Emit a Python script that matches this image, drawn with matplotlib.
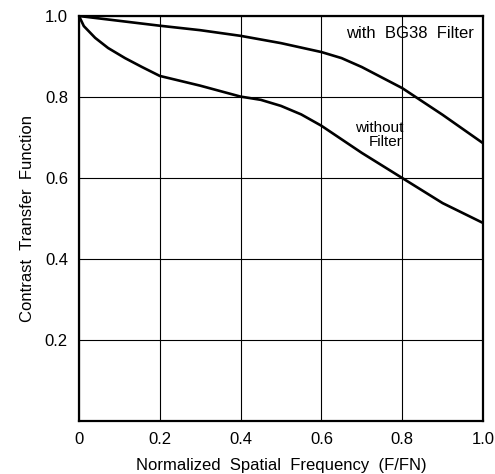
import matplotlib
matplotlib.use("Agg")
import matplotlib.pyplot as plt

# values
freq_bg38 = [0.0, 0.1, 0.2, 0.3, 0.4, 0.5, 0.6, 0.65, 0.7, 0.8, 0.9, 1.0]
ctf_bg38 = [1.0, 0.988, 0.976, 0.965, 0.951, 0.933, 0.911, 0.896, 0.874, 0.822, 0.756, 0.686]

freq_nofilt = [0.0, 0.012, 0.04, 0.072, 0.114, 0.156, 0.2, 0.3, 0.4, 0.45, 0.5, 0.55, 0.6,
               0.7, 0.8, 0.9, 1.0]
ctf_nofilt = [1.0, 0.975, 0.946, 0.921, 0.896, 0.874, 0.852, 0.828, 0.801, 0.793, 0.778, 0.757,
              0.729, 0.662, 0.6, 0.538, 0.489]

xticks = [0, 0.2, 0.4, 0.6, 0.8, 1.0]
xtick_labels = ["0", "0.2", "0.4", "0.6", "0.8", "1.0"]
yticks = [0.2, 0.4, 0.6, 0.8, 1.0]
ytick_labels = ["0.2", "0.4", "0.6", "0.8", "1.0"]

plt.rcParams['font.family'] = ['Liberation Sans', 'DejaVu Sans']

fig = plt.figure(figsize=(4.95, 4.74), dpi=100)
ax = fig.add_axes([79/495, 1 - 421/474, 404/495, 405/474])

ax.plot(freq_bg38, ctf_bg38, color='black', lw=1.9, solid_joinstyle='round')
ax.plot(freq_nofilt, ctf_nofilt, color='black', lw=1.9, solid_joinstyle='round')

ax.set_xlim(0, 1.0)
ax.set_ylim(0, 1.0)
ax.set_xticks(xticks)
ax.set_xticklabels(xtick_labels)
ax.set_yticks(yticks)
ax.set_yticklabels(ytick_labels)
ax.tick_params(length=0, pad=8, labelsize=12)
ax.grid(True, color='black', lw=0.8)
for s in ax.spines.values():
    s.set_linewidth(1.6)

ax.set_xlabel("Normalized  Spatial  Frequency  (F/FN)", fontsize=12, labelpad=8)
ax.set_ylabel("Contrast  Transfer  Function", fontsize=12, labelpad=7)

ax.text(0.978, 0.958, "with  BG38  Filter", ha='right', va='center', fontsize=12)
ax.text(0.802, 0.706, "without\nFilter", ha='right', va='center', fontsize=11,
        linespacing=1.0)

fig.savefig("out.png", dpi=100)
